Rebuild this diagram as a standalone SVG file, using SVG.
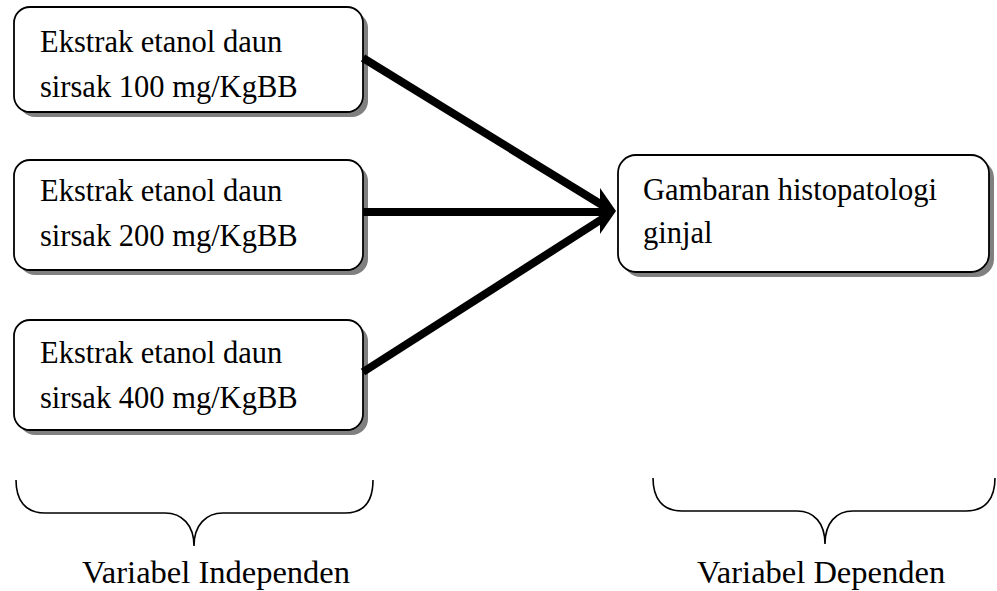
<svg xmlns="http://www.w3.org/2000/svg" width="997" height="591" viewBox="0 0 997 591">
<style>
.shadow{fill:#808080;stroke:none}
.box{fill:#fff;stroke:#000;stroke-width:1.8}
.t{font-family:"Liberation Serif","Times New Roman",serif;font-size:30.5px;fill:#000}
.lbl{font-family:"Liberation Serif","Times New Roman",serif;font-size:32.5px;fill:#000}
.conn{stroke:#000;stroke-width:8;fill:none}
.brace{stroke:#000;stroke-width:1.6;fill:none}
</style>
<rect width="997" height="591" fill="#fff"/>
<g id="n1">
<rect class="shadow" x="19" y="12" width="349" height="105" rx="16"/>
<rect class="box" x="14" y="7" width="349" height="105" rx="16"/>
<text class="t" x="40" y="52">Ekstrak etanol daun</text>
<text class="t" x="40" y="97">sirsak 100 mg/KgBB</text>
</g>
<g id="n2">
<rect class="shadow" x="19" y="165" width="349" height="110" rx="16"/>
<rect class="box" x="14" y="160" width="349" height="110" rx="16"/>
<text class="t" x="40" y="201">Ekstrak etanol daun</text>
<text class="t" x="40" y="246">sirsak 200 mg/KgBB</text>
</g>
<g id="n3">
<rect class="shadow" x="19" y="325" width="349" height="110" rx="16"/>
<rect class="box" x="14" y="320" width="349" height="110" rx="16"/>
<text class="t" x="40" y="363">Ekstrak etanol daun</text>
<text class="t" x="40" y="408">sirsak 400 mg/KgBB</text>
</g>
<g id="n4">
<rect class="shadow" x="623" y="160" width="371" height="117" rx="18"/>
<rect class="box" x="618" y="155" width="371" height="117" rx="18"/>
<text class="t" x="643" y="200">Gambaran histopatologi</text>
<text class="t" x="643" y="243">ginjal</text>
</g>
<g id="connectors">
<line class="conn" x1="363" y1="58" x2="602" y2="205"/>
<line class="conn" x1="363" y1="212" x2="602" y2="212"/>
<line class="conn" x1="363" y1="372" x2="602" y2="219"/>
<polygon points="616,211 600,188 600,234" fill="#000"/>
</g>
<g id="braces">
<path class="brace" d="M16,480 C16,500 25,513 45,513 L165,513 C182,513 194,525 194,546 C194,525 206,513 223,513 L345,513 C365,513 373,500 373,480"/>
<path class="brace" d="M653,478 C653,498 662,511 682,511 L797,511 C814,511 825,523 825,544 C825,523 836,511 853,511 L966,511 C986,511 995,498 995,478"/>
</g>
<text class="lbl" x="82" y="583">Variabel Independen</text>
<text class="lbl" x="697" y="583">Variabel Dependen</text>
</svg>
